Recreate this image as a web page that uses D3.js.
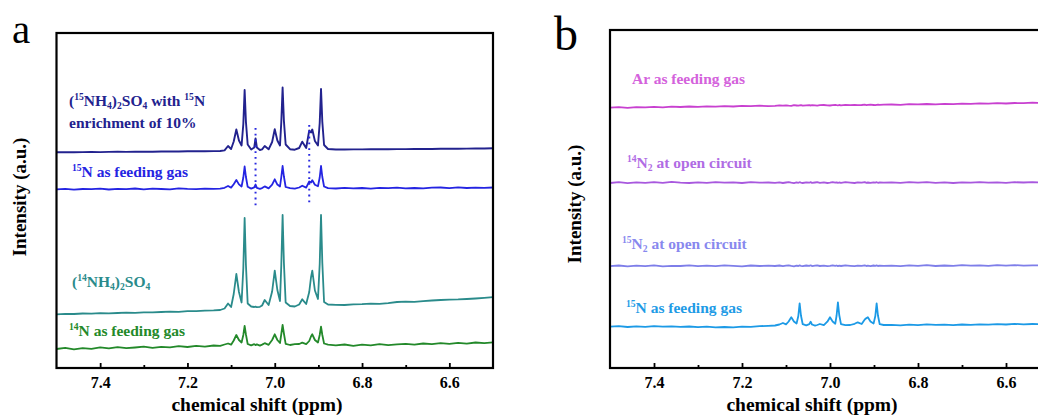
<!DOCTYPE html>
<html>
<head>
<meta charset="utf-8">
<script src="https://cdn.jsdelivr.net/npm/d3@7"></script>
<style>
  body { margin: 0; background: #fff; }
  svg { display: block; }
  text { font-family: "Liberation Serif", "Times New Roman", serif; white-space: pre; }
</style>
</head>
<body>
<svg id="chart" width="1038" height="417"></svg>
<script>
// Chemical shift sampling points (ppm), shared by every spectrum
const shifts = [
  7.50, 7.48, 7.46, 7.44, 7.42, 7.40, 7.38, 7.36, 7.34, 7.32, 7.30, 7.28, 7.26, 7.24, 7.22, 7.20, 7.18, 7.16, 7.14,
  7.125, 7.115, 7.107, 7.100, 7.094, 7.088, 7.082, 7.076, 7.072, 7.069, 7.066, 7.062, 7.054, 7.047, 7.044, 7.041,
  7.034, 7.029, 7.023, 7.014, 7.006, 7.000, 6.994, 6.988, 6.985, 6.982, 6.979, 6.975, 6.965, 6.954, 6.944, 6.937,
  6.928, 6.921, 6.917, 6.914, 6.908, 6.901, 6.897, 6.894, 6.891, 6.887, 6.878,
  6.86, 6.84, 6.82, 6.80, 6.78, 6.76, 6.74, 6.72, 6.70, 6.68, 6.66, 6.64, 6.62, 6.60, 6.58, 6.56, 6.54, 6.52, 6.50
];

// Panel a: stacked intensities (a.u.)
const enriched15 = [
  215.7, 215.8, 215.7, 215.9, 216.0, 215.9, 216.1, 216.2, 216.1, 216.3, 216.4, 216.3, 216.5, 216.6, 216.5, 216.7, 216.8, 216.8, 216.9,
  217.0, 217.6, 222.0, 219.0, 226.5, 238.5, 227.5, 222.5, 244.0, 278.0, 246.0, 223.5, 218.5, 220.5, 229.5, 220.5,
  218.0, 218.6, 222.0, 218.7, 226.0, 238.7, 227.5, 222.5, 246.0, 280.5, 247.0, 223.5, 218.8, 218.3, 220.0, 226.3,
  220.0, 237.5, 235.5, 238.5, 227.0, 222.5, 245.0, 279.0, 246.0, 223.0, 219.0,
  218.5, 218.5, 218.6, 218.6, 218.7, 218.8, 218.7, 218.9, 218.9, 219.0, 219.1, 219.0, 219.2, 219.3, 219.2, 219.4, 219.5, 219.5, 219.7
];
const feed15a = [
  178.6, 179.2, 178.4, 179.0, 178.8, 179.4, 178.5, 179.1, 178.9, 179.5, 178.7, 179.3, 179.0, 178.6, 179.6, 179.1, 178.8, 179.4, 179.2,
  179.3, 180.2, 182.0, 180.4, 183.8, 188.0, 183.6, 181.5, 190.5, 201.5, 191.0, 181.2, 179.4, 180.6, 183.5, 180.1,
  179.2, 179.9, 181.6, 179.6, 183.3, 188.7, 183.4, 181.5, 191.0, 202.0, 191.5, 181.0, 179.8, 179.3, 180.5, 182.3,
  180.4, 186.5, 185.5, 187.8, 183.3, 181.8, 190.5, 202.0, 191.0, 181.5, 179.8,
  179.5, 180.1, 179.6, 180.0, 179.4, 180.2, 179.8, 180.4, 179.7, 180.0, 179.6, 180.3, 180.5, 179.9, 180.6, 180.0, 180.4, 180.1, 180.5
];
const natural14 = [
  53.7, 54.1, 54.0, 54.5, 54.3, 54.8, 54.7, 55.0, 55.3, 55.2, 55.7, 55.6, 56.0, 56.3, 56.2, 56.8, 56.9, 57.3, 57.6,
  58.0, 59.5, 64.5, 61.0, 74.0, 94.0, 76.0, 65.5, 100.0, 150.0, 103.0, 64.5, 61.5, 61.0, 61.4, 60.8,
  61.2, 62.5, 68.0, 63.0, 76.5, 97.3, 78.0, 67.0, 103.0, 153.0, 105.0, 65.5, 62.0, 61.5, 63.5, 68.7,
  64.0, 76.0, 90.5, 97.3, 77.5, 69.0, 104.0, 153.0, 105.0, 66.0, 63.5,
  63.2, 63.0, 63.6, 63.8, 64.3, 64.1, 64.9, 66.0, 66.4, 66.2, 66.9, 67.5, 68.0, 68.4, 68.6, 69.0, 69.5, 70.1, 70.8
];
const feed14 = [
  19.0, 20.2, 18.7, 19.9, 19.2, 20.6, 19.6, 20.9, 19.8, 20.5, 21.3, 20.1, 21.2, 20.6, 21.8, 21.0, 22.1, 21.4, 22.5,
  22.2, 23.5, 24.5, 23.3, 27.5, 33.0, 28.0, 25.5, 33.0, 42.0, 33.5, 24.0, 22.6, 23.8, 22.9, 23.6,
  22.4, 23.4, 24.8, 23.2, 28.0, 33.7, 28.0, 25.0, 34.0, 43.0, 34.5, 24.2, 23.0, 23.8, 24.0, 25.3,
  23.8, 27.0, 31.5, 33.7, 28.0, 25.5, 33.0, 41.3, 33.0, 24.5, 23.4,
  22.6, 23.5, 22.2, 23.4, 22.7, 23.9, 22.9, 23.6, 24.2, 23.3, 24.5, 23.8, 24.9, 24.1, 25.2, 24.4, 25.5, 24.8, 25.6
];

// Panel b: stacked intensities (a.u.)
const argonFeed = [
  260.3, 260.8, 260.2, 260.9, 260.6, 261.2, 260.7, 261.3, 261.0, 261.5, 261.1, 261.7, 261.4, 261.9, 261.5, 262.1, 261.8, 262.3, 261.9,
  262.2, 262.6, 262.3, 262.7, 262.4, 262.2, 262.8, 262.5, 262.3, 262.7, 262.9, 262.4, 262.6, 262.8, 262.5, 262.9,
  262.6, 262.4, 262.8, 263.0, 262.7, 262.5, 262.9, 263.1, 262.8, 262.6, 263.0, 262.7, 263.1, 262.9, 263.2, 262.8,
  263.0, 263.3, 262.9, 263.1, 263.4, 263.0, 262.8, 263.2, 263.4, 263.1, 263.3,
  263.5, 263.2, 263.8, 263.6, 264.0, 263.7, 264.2, 263.9, 264.4, 264.1, 264.6, 264.3, 264.8, 264.5, 265.0, 264.8, 265.3, 265.0, 265.5
];
const open14 = [
  185.0, 185.8, 184.9, 185.6, 185.2, 185.9, 185.1, 186.2, 185.4, 185.0, 185.7, 185.2, 185.9, 185.3, 185.6, 185.0, 185.8, 185.3, 185.5,
  185.2, 185.7, 185.0, 185.5, 185.9, 185.3, 184.9, 185.6, 185.2, 185.8, 185.4, 185.0, 185.7, 185.3, 185.9, 185.1,
  185.5, 185.8, 185.2, 185.6, 185.0, 185.4, 185.9, 185.3, 185.7, 185.1, 185.5, 185.2, 185.8, 185.4, 185.0, 185.6,
  185.3, 185.9, 185.2, 185.5, 185.1, 185.7, 185.4, 185.8, 185.2, 185.5, 185.3,
  185.6, 185.1, 185.8, 185.3, 185.9, 185.2, 185.6, 185.0, 185.7, 185.4, 185.9, 185.3, 185.6, 185.1, 185.8, 185.5, 185.9, 185.4, 185.7
];
const open15 = [
  101.8, 102.5, 101.6, 102.3, 101.9, 102.6, 101.7, 102.2, 102.0, 102.7, 101.8, 102.4, 101.9, 102.6, 102.1, 101.7, 102.5, 102.0, 102.3,
  102.0, 102.5, 101.8, 102.3, 102.7, 102.1, 101.7, 102.4, 102.0, 102.6, 102.2, 101.8, 102.5, 102.1, 102.7, 101.9,
  102.3, 102.6, 102.0, 102.4, 101.8, 102.2, 102.7, 102.1, 102.5, 101.9, 102.3, 102.0, 102.6, 102.2, 101.8, 102.4,
  102.1, 102.7, 102.0, 102.3, 101.9, 102.5, 102.2, 102.6, 102.0, 102.3, 102.1,
  102.4, 101.9, 102.6, 102.2, 102.8, 102.0, 102.5, 102.1, 102.9, 102.3, 102.7, 102.2, 102.8, 102.4, 102.9, 102.3, 102.7, 102.5, 102.8
];
const feed15b = [
  41.3, 41.8, 41.0, 41.6, 41.2, 41.9, 41.4, 41.7, 41.1, 41.5, 40.9, 41.3, 40.6, 41.0, 40.7, 41.4, 41.2, 41.8, 42.2,
  42.5, 43.5, 45.0, 43.6, 46.5, 50.7, 46.5, 44.5, 52.0, 64.7, 52.5, 43.8, 42.6, 43.8, 46.3, 43.5,
  42.4, 43.0, 44.0, 42.8, 46.3, 50.7, 46.5, 44.3, 52.5, 65.7, 53.0, 43.9, 42.9, 43.0, 44.2, 45.7,
  44.0, 48.5, 50.0, 50.7, 46.5, 44.4, 52.0, 64.7, 52.5, 43.8, 43.0,
  43.2, 42.7, 43.4, 42.9, 43.6, 43.1, 43.3, 42.8, 43.5, 43.2, 43.7, 43.3, 43.9, 43.5, 44.1, 43.7, 44.0, 43.8, 44.2
];

// Axis ticks (ppm)
const majorTicks = [7.4, 7.2, 7.0, 6.8, 6.6];
const minorTicks = [7.3, 7.1, 6.9, 6.7];

// 15N doublet guide lines in panel a: [shift, low, high]
const doubletGuides = [[7.044, 160, 240], [6.921, 163, 243]];

const svg = d3.select("#chart");

function richText(g, x, y, segs, size, color) {
  const t = g.append("text")
    .attr("x", x).attr("y", y)
    .attr("font-size", size)
    .attr("font-weight", "bold")
    .attr("fill", color);
  let cur = 0;
  segs.forEach(([s, kind]) => {
    const target = kind === "sup" ? -0.36 * size : kind === "sub" ? 0.22 * size : 0;
    t.append("tspan")
      .attr("dy", target - cur)
      .attr("font-size", kind ? size * 0.62 : size)
      .text(s);
    cur = target;
  });
  return t;
}

const panels = [
  {
    id: "a", letter: "a", letterX: 12, letterY: 43, letterSize: 41,
    left: 56.5, right: 493, top: 33, bottom: 368, ymax: 335,
    titleX: 257, ylabX: 26, ylabY: 197,
    series: [
      { values: enriched15, color: "#22228e", width: 1.9 },
      { values: feed15a, color: "#2424e2", width: 1.8 },
      { values: natural14, color: "#2a8b8b", width: 1.8 },
      { values: feed14, color: "#23892a", width: 1.8 }
    ],
    labels: [
      { x: 69, y: 106, color: "#22228e", segs: [["(", 0], ["15", "sup"], ["NH", 0], ["4", "sub"], [")", 0], ["2", "sub"], ["SO", 0], ["4", "sub"], [" with ", 0], ["15", "sup"], ["N", 0]] },
      { x: 69, y: 128, color: "#22228e", segs: [["enrichment of 10%", 0]] },
      { x: 72, y: 177, color: "#2424e2", segs: [["15", "sup"], ["N as feeding gas", 0]] },
      { x: 72, y: 287, color: "#2a8b8b", segs: [["(", 0], ["14", "sup"], ["NH", 0], ["4", "sub"], [")", 0], ["2", "sub"], ["SO", 0], ["4", "sub"]] },
      { x: 69, y: 336, color: "#23892a", segs: [["14", "sup"], ["N as feeding gas", 0]] }
    ],
    guides: true
  },
  {
    id: "b", letter: "b", letterX: 554, letterY: 50, letterSize: 48,
    left: 610, right: 1050, top: 30, bottom: 368, ymax: 338,
    titleX: 812, ylabX: 581, ylabY: 204,
    series: [
      { values: argonFeed, color: "#c840d0", width: 1.8 },
      { values: open14, color: "#a858de", width: 1.8 },
      { values: open15, color: "#7e7ee9", width: 1.8 },
      { values: feed15b, color: "#1c9ae6", width: 1.8 }
    ],
    labels: [
      { x: 632, y: 84, color: "#d462dc", segs: [["Ar as feeding gas", 0]] },
      { x: 627, y: 168, color: "#b06ce4", segs: [["14", "sup"], ["N", 0], ["2", "sub"], [" at open circuit", 0]] },
      { x: 622, y: 249, color: "#8888ee", segs: [["15", "sup"], ["N", 0], ["2", "sub"], [" at open circuit", 0]] },
      { x: 626, y: 313, color: "#1e9be6", segs: [["15", "sup"], ["N as feeding gas", 0]] }
    ],
    guides: false
  }
];

panels.forEach(p => {
  const g = svg.append("g");
  const x = d3.scaleLinear().domain([7.5, 6.5]).range([p.left, p.right]);
  const y = d3.scaleLinear().domain([0, p.ymax]).range([p.bottom, p.top]);

  g.append("clipPath").attr("id", "clip-" + p.id)
    .append("rect")
    .attr("x", p.left).attr("y", p.top)
    .attr("width", p.right - p.left).attr("height", p.bottom - p.top);

  const plot = g.append("g").attr("clip-path", `url(#clip-${p.id})`);

  const line = d3.line()
    .x((d, i) => x(shifts[i]))
    .y(d => y(d));

  p.series.forEach(s => {
    plot.append("path")
      .datum(s.values)
      .attr("fill", "none")
      .attr("stroke", s.color)
      .attr("stroke-width", s.width)
      .attr("stroke-linejoin", "round")
      .attr("d", line);
  });

  if (p.guides) {
    doubletGuides.forEach(([ppm, lo, hi]) => {
      plot.append("line")
        .attr("x1", x(ppm)).attr("x2", x(ppm))
        .attr("y1", y(hi)).attr("y2", y(lo))
        .attr("stroke", "#2a2ae0")
        .attr("stroke-width", 2)
        .attr("stroke-dasharray", "1.8,4");
    });
  }

  p.labels.forEach(l => richText(g, l.x, l.y, l.segs, 15.5, l.color));

  // bottom axis: major ticks with labels, minor ticks without
  const major = g.append("g")
    .attr("transform", `translate(0,${p.bottom})`)
    .call(d3.axisBottom(x).tickValues(majorTicks).tickSize(-5).tickPadding(9).tickFormat(d3.format(".1f")));
  const minor = g.append("g")
    .attr("transform", `translate(0,${p.bottom})`)
    .call(d3.axisBottom(x).tickValues(minorTicks).tickSize(-3).tickFormat(""));
  [major, minor].forEach(a => {
    a.select(".domain").remove();
    a.selectAll(".tick line").attr("stroke", "#000").attr("stroke-width", 1.8);
  });
  major.selectAll(".tick text")
    .attr("fill", "#000")
    .attr("font-size", 16)
    .attr("font-weight", "bold")
    .attr("font-family", '"Liberation Serif", "Times New Roman", serif');

  // frame
  g.append("rect")
    .attr("x", p.left).attr("y", p.top)
    .attr("width", p.right - p.left).attr("height", p.bottom - p.top)
    .attr("fill", "none")
    .attr("stroke", "#000")
    .attr("stroke-width", 2.2);

  g.append("text")
    .attr("x", p.titleX).attr("y", 411)
    .attr("text-anchor", "middle")
    .attr("font-size", 19.5)
    .attr("font-weight", "bold")
    .text("chemical shift (ppm)");

  g.append("text")
    .attr("transform", `translate(${p.ylabX},${p.ylabY}) rotate(-90)`)
    .attr("text-anchor", "middle")
    .attr("font-size", 19)
    .attr("font-weight", "bold")
    .text("Intensity (a.u.)");

  g.append("text")
    .attr("x", p.letterX).attr("y", p.letterY)
    .attr("font-size", p.letterSize)
    .text(p.letter);
});
</script>
</body>
</html>
